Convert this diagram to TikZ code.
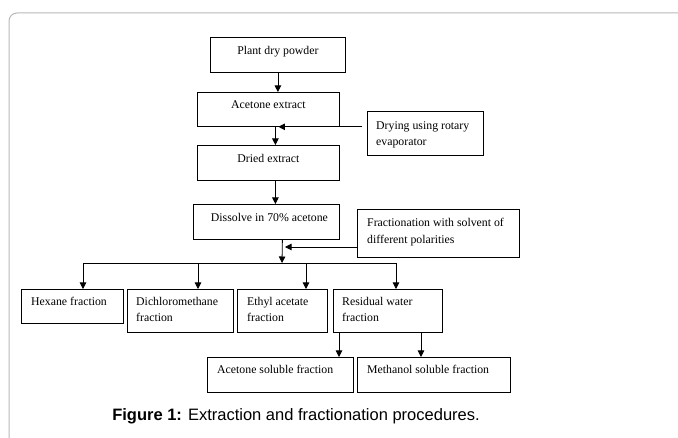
\documentclass[tikz,border=0pt]{standalone}
\usepackage{fontspec}
\setmainfont{Liberation Serif}
\newfontfamily\capfont{Liberation Sans}
\usetikzlibrary{arrows.meta,calc}
\begin{document}
\begin{tikzpicture}[x=1pt,y=-1pt,
  box/.style={draw, line width=0.8pt, inner sep=0pt, anchor=north west},
  txt/.style={inner sep=0pt, font=\fontsize{11.8}{16.5}\selectfont, align=left},
  arr/.style={line width=0.8pt, -{Triangle[length=6.5pt,width=6.5pt]}},
  ln/.style={line width=0.8pt}]
\useasboundingbox (0,0) rectangle (678,438);
% frame
\draw[black!28, line width=1pt, rounded corners=8pt] (9,438) -- (9,13) -- (678,13);
% boxes
\node[box, minimum width=135pt, minimum height=35pt] (plant) at (210,37) {};
\node[box, minimum width=142pt, minimum height=34pt] (acet) at (197,92) {};
\node[box, minimum width=116pt, minimum height=44pt] (drying) at (367,111) {};
\node[box, minimum width=142pt, minimum height=35pt] (dried) at (197,145) {};
\node[box, minimum width=146pt, minimum height=35pt] (dissolve) at (193,204) {};
\node[box, minimum width=162pt, minimum height=48pt] (frac) at (357,209) {};
\node[box, minimum width=102pt, minimum height=34pt] (hex) at (21,289) {};
\node[box, minimum width=106pt, minimum height=43pt] (dcm) at (127,289) {};
\node[box, minimum width=90pt, minimum height=43pt] (ethyl) at (237,289) {};
\node[box, minimum width=109pt, minimum height=43pt] (resid) at (333,289) {};
\node[box, minimum width=146pt, minimum height=35pt] (acsol) at (207,357) {};
\node[box, minimum width=153pt, minimum height=35pt] (mesol) at (357,357) {};
% texts
\node[txt, anchor=north] (plant-t) at ($(plant.north)+(0,9)$) {Plant dry powder};
\node[txt, anchor=north] (acet-t) at ($(acet.north)+(0,9)$) {Acetone extract};
\node[txt, anchor=north] (dried-t) at ($(dried.north)+(0,9)$) {Dried extract};
\node[txt, anchor=north] (dissolve-t) at ($(dissolve.north)+(3,9)$) {Dissolve in 70\% acetone};
\node[txt, anchor=north west] (drying-t) at ($(drying.north west)+(9,10)$) {Drying using rotary\\evaporator};
\node[txt, anchor=north west] (frac-t) at ($(frac.north west)+(10,9)$) {Fractionation with solvent of\\different polarities};
\node[txt, anchor=north west] (hex-t) at ($(hex.north west)+(10,8)$) {Hexane fraction};
\node[txt, anchor=north west] (dcm-t) at ($(dcm.north west)+(9,8)$) {Dichloromethane\\fraction};
\node[txt, anchor=north west] (ethyl-t) at ($(ethyl.north west)+(10,8)$) {Ethyl acetate\\fraction};
\node[txt, anchor=north west] (resid-t) at ($(resid.north west)+(9,8)$) {Residual water\\fraction};
\node[txt, anchor=north west] (acsol-t) at ($(acsol.north west)+(10,8)$) {Acetone soluble fraction};
\node[txt, anchor=north west] (mesol-t) at ($(mesol.north west)+(10,8)$) {Methanol soluble fraction};
% connectors
\draw[arr] (plant.south) -- (plant.south |- acet.north);
\coordinate (p1) at ($(acet.south)+(7,0)$);
\draw[arr] (p1) -- (p1 |- dried.north);
\coordinate (d1) at ($(acet.south)+(10,0)$);
\draw[arr] ($(drying.west |- acet.south)+(-5,0)$) -- (d1);
\coordinate (p2) at ($(dried.south)+(7,0)$);
\draw[arr] (p2) -- (p2 |- dissolve.north);
\coordinate (p3) at ($(dissolve.south)+(16,0)$);
\coordinate (br) at (282,263);
\draw[arr] (p3) -- (br);
\coordinate (fa) at (285,247);
\draw[arr] (frac.west |- fa) -- (fa);
\coordinate (b1) at (83,263);
\coordinate (b2) at (198,263);
\coordinate (b3) at (306,263);
\coordinate (b4) at (396,263);
\draw[ln] (b1) -- (b4);
\draw[arr] (b1) -- (b1 |- hex.north);
\draw[arr] (b2) -- (b2 |- dcm.north);
\draw[arr] (b3) -- (b3 |- ethyl.north);
\draw[arr] (b4) -- (b4 |- resid.north);
\coordinate (r1) at ($(resid.south west)+(6,0)$);
\coordinate (r2) at ($(resid.south west)+(88,0)$);
\draw[arr] (r1) -- (r1 |- acsol.north);
\draw[arr] (r2) -- (r2 |- mesol.north);
% caption
\node[font=\capfont\fontsize{16.5}{18}\selectfont, anchor=base] (cap) at (296,421) {\textbf{Figure 1:} Extraction and fractionation procedures.};
\end{tikzpicture}
\end{document}
